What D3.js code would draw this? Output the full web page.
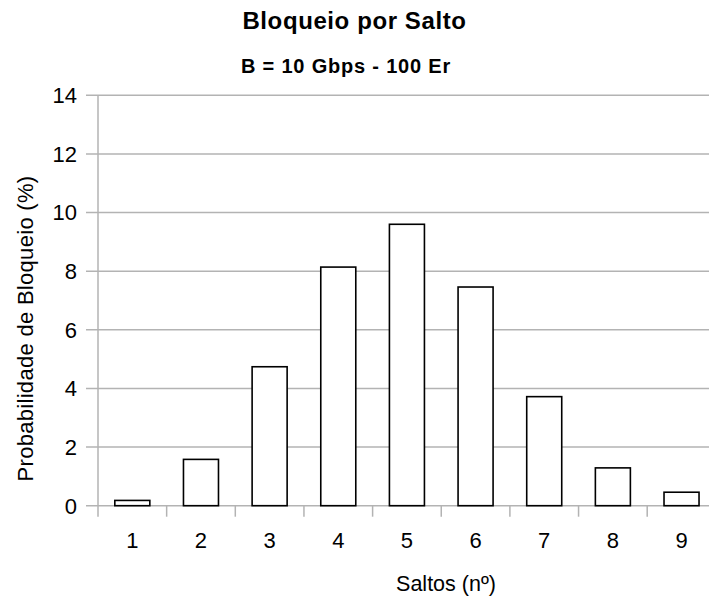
<!DOCTYPE html>
<html><head><meta charset="utf-8">
<script src="https://cdn.jsdelivr.net/npm/d3@7"></script>
<style>body{margin:0;background:#fff}svg{display:block}</style>
</head><body>
<script>
const categories = ["1","2","3","4","5","6","7","8","9"];
const values = [0.18, 1.58, 4.74, 8.14, 9.6, 7.46, 3.72, 1.29, 0.46];
const yTicks = [0,2,4,6,8,10,12,14];
const title = "Bloqueio por Salto";
const subtitle = "B = 10 Gbps - 100 Er";
const xTitle = "Saltos (nº)";
const yTitle = "Probabilidade de Bloqueio (%)";

const W = 709, H = 603;
const plotLeft = 98, plotTop = 95.3, plotBottom = 505.7, bandW = 68.65;
const svg = d3.select("body").append("svg").attr("width", W).attr("height", H);
const font = "Liberation Sans, Arial, sans-serif";
const grey = "#b3b3b3";

const x = d3.scaleBand().domain(categories).range([plotLeft, plotLeft + bandW * categories.length]).paddingInner(0.49).paddingOuter(0.245);
const y = d3.scaleLinear().domain([0, 14]).range([plotBottom, plotTop]);

// gridlines
svg.append("g").selectAll("line").data(yTicks).join("line")
  .attr("x1", plotLeft - 12).attr("x2", W).attr("y1", d => y(d)).attr("y2", d => y(d))
  .attr("stroke", grey).attr("stroke-width", 1.5);
// y axis line
svg.append("line").attr("x1", plotLeft).attr("x2", plotLeft).attr("y1", plotTop).attr("y2", plotBottom + 11)
  .attr("stroke", grey).attr("stroke-width", 1.5);
// x category boundary ticks
const bounds = d3.range(1, categories.length);
svg.append("g").selectAll("line").data(bounds).join("line")
  .attr("x1", i => plotLeft + bandW * i).attr("x2", i => plotLeft + bandW * i)
  .attr("y1", plotBottom).attr("y2", plotBottom + 11)
  .attr("stroke", grey).attr("stroke-width", 1.5);

// y tick labels
svg.append("g").selectAll("text").data(yTicks).join("text")
  .attr("x", plotLeft - 21).attr("y", d => y(d)).attr("dy", "0.36em")
  .attr("text-anchor", "end").attr("font-family", font).attr("font-size", 22)
  .attr("fill", "#000").text(d => d);

// x tick labels
svg.append("g").selectAll("text").data(categories).join("text")
  .attr("x", d => x(d) + x.bandwidth() / 2).attr("y", 548)
  .attr("text-anchor", "middle").attr("font-family", font).attr("font-size", 22)
  .attr("fill", "#000").text(d => d);

// bars
svg.append("g").selectAll("rect").data(values).join("rect")
  .attr("x", (d, i) => x(categories[i])).attr("width", x.bandwidth())
  .attr("y", d => y(d)).attr("height", d => y(0) - y(d))
  .attr("fill", "#fff").attr("stroke", "#000").attr("stroke-width", 1.6);

// titles
svg.append("text").attr("x", 354.5).attr("y", 29).attr("text-anchor", "middle")
  .attr("font-family", font).attr("font-size", 24).attr("font-weight", "bold")
  .attr("letter-spacing", 0.6).text(title);
svg.append("text").attr("x", 346).attr("y", 72.5).attr("text-anchor", "middle")
  .attr("font-family", font).attr("font-size", 20).attr("font-weight", "bold")
  .attr("letter-spacing", 0.8).text(subtitle);

svg.append("text").attr("x", 446).attr("y", 591).attr("text-anchor", "middle")
  .attr("font-family", font).attr("font-size", 21.5).text(xTitle);
svg.append("text").attr("transform", "translate(33," + ((plotTop + plotBottom) / 2 + 28) + ") rotate(-90)")
  .attr("text-anchor", "middle").attr("font-family", font).attr("font-size", 22)
  .attr("letter-spacing", 0.3).text(yTitle);
</script>
</body></html>
